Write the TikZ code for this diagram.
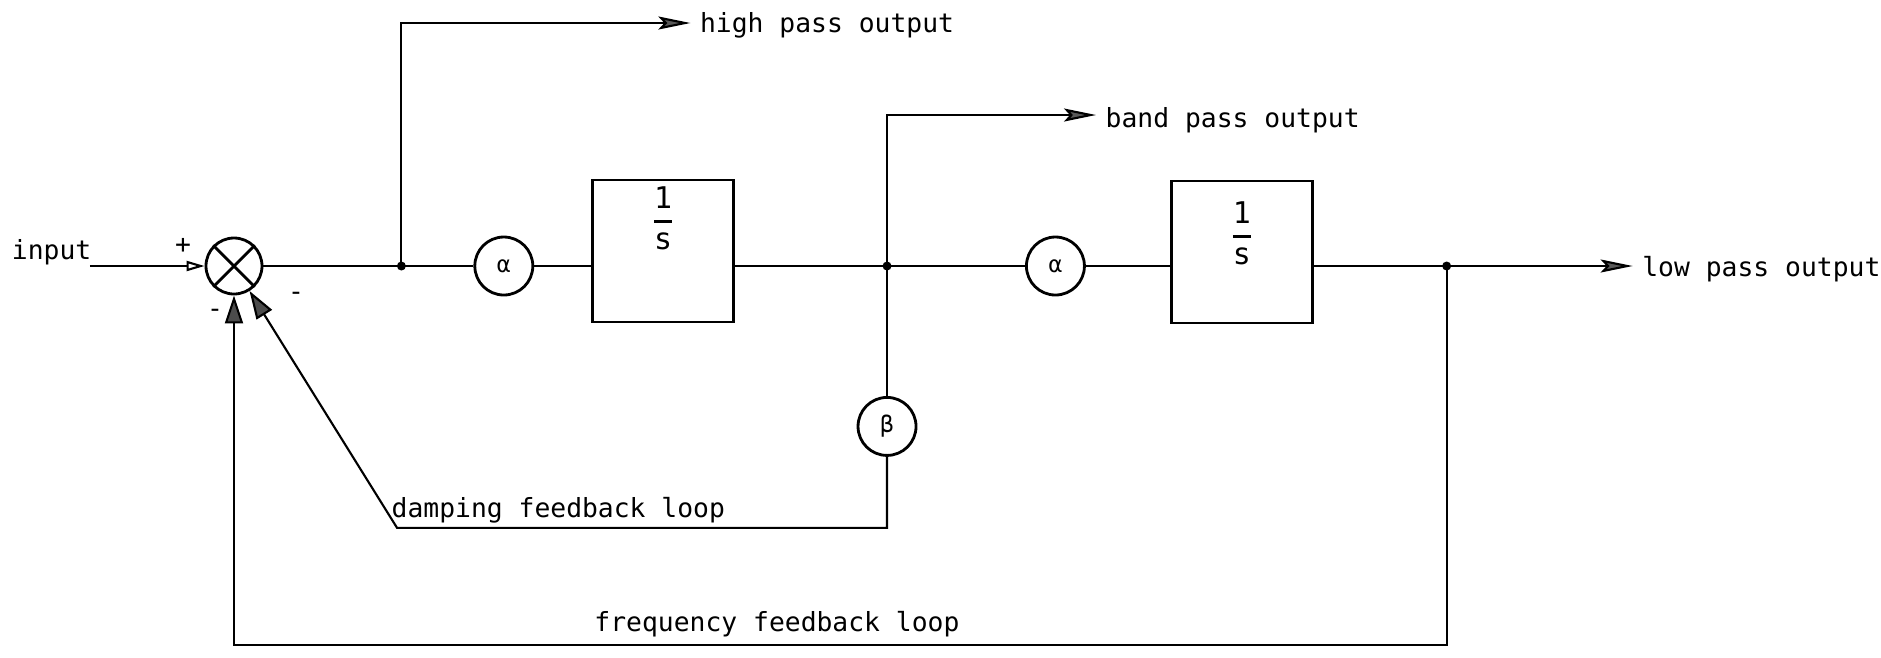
\documentclass[tikz,border=0pt]{standalone}
\usepackage{fontspec}
\setmonofont{DejaVu Sans Mono}
\usetikzlibrary{arrows.meta,positioning,calc}
\tikzset{
  sumjunction/.style={circle,draw,thick,minimum size=5.6mm,inner sep=0pt},
  gain/.style={circle,draw,thick,minimum size=5.8mm,inner sep=0pt,font=\ttfamily\fontsize{6.5}{7}\selectfont},
  integ/.style={draw,thick,minimum width=14.1mm,minimum height=14.2mm,inner sep=0pt},
  signal/.style={semithick},
  outpath/.style={semithick,-{Stealth[length=3.2mm,width=1.3mm,inset=0.6mm,fill=black!65]},shorten >=0.9mm},
  fbpath/.style={semithick,-{Triangle[length=2.8mm,width=1.8mm,fill=black!70]}},
  inpath/.style={semithick,-{Triangle[open,length=1.8mm,width=1.0mm]}},
  tag/.style={font=\ttfamily\fontsize{7.5}{9}\selectfont,inner sep=0pt},
  recip/.style={font=\ttfamily\fontsize{8.5}{10}\selectfont,inner sep=0pt},
  sign/.style={font=\ttfamily\fontsize{7.5}{9}\selectfont,inner sep=0pt}
}
\begin{document}
\begin{tikzpicture}
\useasboundingbox (-2.34,2.66) rectangle (16.47,-3.91);
% forward path
\node[sumjunction](sum){};
\draw[thick](sum.north west)--(sum.south east);
\draw[thick](sum.north east)--(sum.south west);
\coordinate(in)at(-1.44,0);
\node[tag,anchor=base east](intext)at(-1.42,0.07){input};
\coordinate[right=1.38cm of sum](j1);
\node[gain,right=0.72cm of j1](a1){α};
\node[integ,right=0.57cm of a1,yshift=0.15cm](b1){};
\node[recip]at($(b1.north)+(0,-0.40)$){$\displaystyle{\texttt{1}\above0.7pt\texttt{s}}$};
\coordinate(j2)at($(b1.east|-sum)+(1.52,0)$);
\node[gain,right=1.38cm of j2](a2){α};
\node[integ,right=0.84cm of a2,yshift=0.14cm](b2){};
\node[recip]at($(b2.north)+(0,-0.54)$){$\displaystyle{\texttt{1}\above0.7pt\texttt{s}}$};
\coordinate(j3)at($(b2.east|-sum)+(1.33,0)$);
\node[tag,anchor=west](lowout)at($(j3)+(1.95,-0.03)$){low pass output};
% outputs
\coordinate[above=2.43cm of j1](hpc);
\node[tag,anchor=west](hpout)at($(hpc)+(2.98,-0.02)$){high pass output};
\coordinate[above=1.51cm of j2](bpc);
\node[tag,anchor=west](bpout)at($(bpc)+(2.18,-0.05)$){band pass output};
% feedback
\node[gain,below=1.3cm of j2](beta){β};
\coordinate[below=0.71cm of beta](dampr);
\coordinate[left=4.9cm of dampr](dampl);
\node[tag,anchor=south west]at($(dampl)+(-0.06,0.04)$){damping feedback loop};
\coordinate[below=3.79cm of j3](freqr);
\coordinate(freql)at(sum|-freqr);
\node[tag,anchor=south]at($(freql)+(5.43,0.07)$){frequency feedback loop};
\node[sign]at($(sum)+(-0.51,0.2)$){+};
\node[sign]at($(sum)+(-0.19,-0.47)$){-};
\node[sign]at($(sum)+(0.62,-0.3)$){-};
% connectors
\draw[inpath](in)--(sum);
\draw[signal](sum)--(j1)--(a1);
\draw[signal](a1)--(a1-|b1.west);
\draw[signal](b1.east|-j2)--(j2)--(a2);
\draw[signal](a2)--(a2-|b2.west);
\draw[outpath](b2.east|-j3)--(j3)--(lowout.west|-j3);
\draw[outpath](j1)--(hpc)--(hpout.west|-hpc);
\draw[outpath](j2)--(bpc)--(bpout.west|-bpc);
\draw[signal](j2)--(beta);
\draw[fbpath](beta)--(dampr)--(dampl)--(sum);
\draw[fbpath](j3)--(freqr)--(freql)--(sum);
\foreach \j in {j1,j2,j3} \fill(\j)circle(0.45mm);
\end{tikzpicture}
\end{document}
